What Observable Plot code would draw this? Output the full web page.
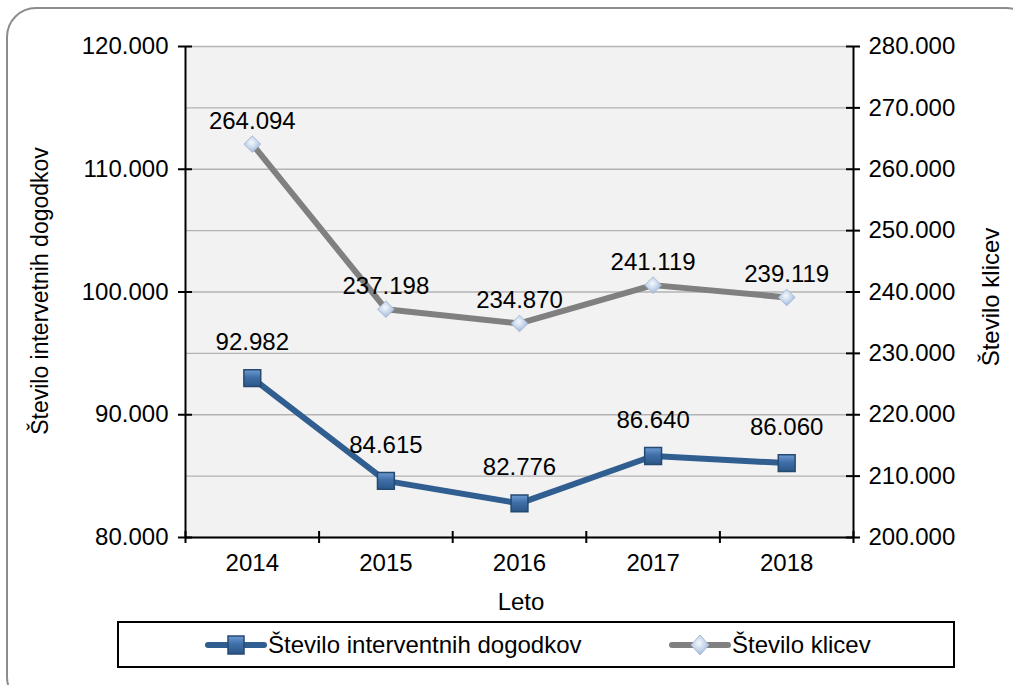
<!DOCTYPE html>
<html><head><meta charset="utf-8">
<script src="https://cdn.jsdelivr.net/npm/d3@7"></script>
<script src="https://cdn.jsdelivr.net/npm/@observablehq/plot@0.6"></script>
<style>
body{margin:0;background:#fff;font-family:"Liberation Sans",Arial,sans-serif;color:#000}
#wrap{position:relative;width:1013px;height:685px;overflow:hidden}
#frame{position:absolute;left:6px;top:7px;width:1030px;height:700px;border:2px solid #8c8c8c;border-radius:30px;box-sizing:border-box}
#chart{position:absolute;left:0;top:0}
.t{position:absolute;font-size:24px;white-space:nowrap;line-height:1}
#legend{position:absolute;left:117px;top:621px;width:838px;height:47px;border:2px solid #000;box-sizing:border-box;background:#fff}
.li{position:absolute;top:0;height:43px;display:flex;align-items:center;font-size:24px}
.li svg{display:block}
</style></head>
<body>
<div id="wrap">
  <div id="frame"></div>
  <div id="chart"></div>
  <div class="t" id="ylab" style="left:40px;top:291px;font-size:23px;transform:translate(-50%,-50%) rotate(-90deg)">Število intervetnih dogodkov</div>
  <div class="t" id="y2lab" style="left:991px;top:297px;transform:translate(-50%,-50%) rotate(-90deg)">Število klicev</div>
  <div class="t" id="xlab" style="left:521px;top:602px;transform:translate(-50%,-50%)">Leto</div>
  <div id="legend"></div>
</div>
<script>
// ---- data ----
const years = [2014, 2015, 2016, 2017, 2018];
const interventions = [92982, 84615, 82776, 86640, 86060];
const calls = [264094, 237198, 234870, 241119, 239119];
const leftTicks = [80000, 90000, 100000, 110000, 120000];
const rightTicks = [200000, 210000, 220000, 230000, 240000, 250000, 260000, 270000, 280000];
const seriesNames = ["Število interventnih dogodkov", "Število klicev"];

// ---- helpers ----
const loc = d3.formatLocale({decimal: ",", thousands: ".", grouping: [3], currency: ["", ""]});
const fmt = loc.format(",d");
const toLeft = v => 80000 + (v - 200000) / 2; // right axis 200k–280k mapped onto left 80k–120k
const rows = years.map((y, i) => ({year: y, interventions: interventions[i], calls: calls[i]}));
const bounds = d3.range(years.length + 1).map(i => years[0] - 0.5 + i);
const xL = bounds[0], xR = bounds[bounds.length - 1];
const BLUE = "#315e90", GRAY = "#808080";
const FONT = '"Liberation Sans", Arial, sans-serif';

const plot = Plot.plot({
  width: 1013, height: 685,
  marginLeft: 185, marginRight: 160, marginTop: 46, marginBottom: 148,
  x: {domain: [xL, xR], ticks: years, tickSize: 0, tickPadding: 16, tickFormat: d => String(d), label: null},
  y: {domain: [leftTicks[0], leftTicks[leftTicks.length - 1]], ticks: leftTicks, tickSize: 0, tickPadding: 17, tickFormat: fmt, label: null},
  style: {fontFamily: FONT, fontSize: "24px", color: "#000", background: "transparent", overflow: "visible"},
  marks: [
    Plot.frame({fill: "#f2f2f2", stroke: null}),
    Plot.ruleY(rightTicks.map(toLeft), {stroke: "#b3b3b3", strokeWidth: 1.4}),
    Plot.ruleX([xL, xR], {stroke: "#000", strokeWidth: 2}),
    Plot.ruleY([leftTicks[0]], {stroke: "#000", strokeWidth: 2}),
    // crossing tick marks
    Plot.ruleY(leftTicks, {x1: xL, x2: xL, insetLeft: -7, insetRight: -7, stroke: "#000", strokeWidth: 2}),
    Plot.ruleY(rightTicks.map(toLeft), {x1: xR, x2: xR, insetLeft: -7, insetRight: -7, stroke: "#000", strokeWidth: 2}),
    Plot.ruleX(bounds, {y1: leftTicks[0], y2: leftTicks[0], insetTop: -6, insetBottom: -6, stroke: "#000", strokeWidth: 2}),
    // right axis labels
    Plot.text(rightTicks, {x: xR, y: d => toLeft(d), text: d => fmt(d), dx: 15, textAnchor: "start", fontSize: 24, fill: "#000"}),
    // series
    Plot.line(rows, {x: "year", y: d => toLeft(d.calls), stroke: GRAY, strokeWidth: 6}),
    Plot.line(rows, {x: "year", y: "interventions", stroke: BLUE, strokeWidth: 6}),
    Plot.dot(rows, {x: "year", y: d => toLeft(d.calls), symbol: "diamond2", r: 7.5, fill: "url(#gDia)", stroke: "#a9bcd6", strokeWidth: 1}),
    Plot.dot(rows, {x: "year", y: "interventions", symbol: "square", r: 9.5, fill: "url(#gSq)", stroke: "#254a72", strokeWidth: 1.5}),
    Plot.text(rows, {x: "year", y: d => toLeft(d.calls), text: d => fmt(d.calls), dy: -23, fontSize: 24, fill: "#000"}),
    Plot.text(rows, {x: "year", y: "interventions", text: d => fmt(d.interventions), dy: -36, fontSize: 24, fill: "#000"})
  ]
});

const defsMarkup = `
<linearGradient id="gSq" x1="0" y1="0" x2="0" y2="1">
  <stop offset="0" stop-color="#6f9bd2"/><stop offset="0.45" stop-color="#3f6ea8"/><stop offset="1" stop-color="#2c5687"/>
</linearGradient>
<radialGradient id="gDia" cx="0.45" cy="0.4" r="0.6">
  <stop offset="0" stop-color="#f4f8fd"/><stop offset="0.6" stop-color="#c3d4ea"/><stop offset="1" stop-color="#9db5d6"/>
</radialGradient>`;
const svgRoot = plot.tagName.toLowerCase() === "svg" ? plot : plot.querySelector("svg");
const defs = document.createElementNS("http://www.w3.org/2000/svg", "defs");
defs.innerHTML = defsMarkup;
svgRoot.insertBefore(defs, svgRoot.firstChild);
document.getElementById("chart").appendChild(plot);

// ---- legend ----
const leg = document.getElementById("legend");
const items = [
  {name: seriesNames[0], color: BLUE, sym: "sq", left: 86, w: 62},
  {name: seriesNames[1], color: GRAY, sym: "dia", left: 550, w: 62}
];
items.forEach(it => {
  const d = document.createElement("div");
  d.className = "li";
  d.style.left = it.left + "px";
  const mk = it.sym === "sq"
    ? `<rect x="${it.w/2-8}" y="4" width="16" height="18" fill="url(#gSq)" stroke="#254a72" stroke-width="1.5"/>`
    : `<path d="M${it.w/2},3 L${it.w/2+9},13 L${it.w/2},23 L${it.w/2-9},13 Z" fill="url(#gDia)" stroke="#a9bcd6"/>`;
  d.innerHTML = `<svg width="${it.w}" height="26"><line x1="3" y1="13" x2="${it.w-3}" y2="13" stroke="${it.color}" stroke-width="6" stroke-linecap="round"/>${mk}</svg><span style="margin-left:1px">${it.name}</span>`;
  leg.appendChild(d);
});
</script>
</body></html>
